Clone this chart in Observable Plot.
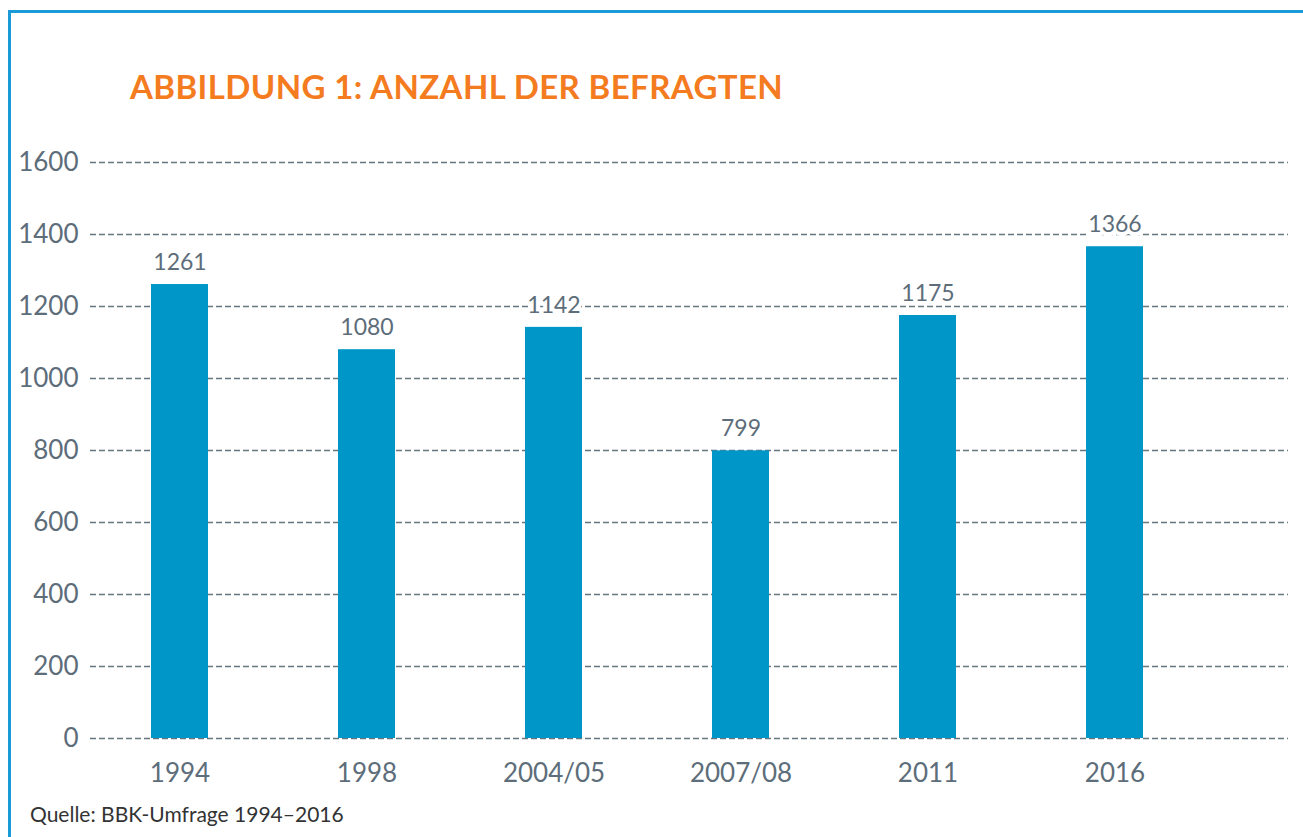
<!DOCTYPE html>
<html>
<head>
<meta charset="utf-8">
<script src="https://cdn.jsdelivr.net/npm/d3@7"></script>
<script src="https://cdn.jsdelivr.net/npm/@observablehq/plot@0.6"></script>
<style>
  html, body { margin: 0; padding: 0; background: #fff; }
  #wrap { position: relative; width: 1303px; height: 837px; overflow: hidden; font-family: Lato, "Open Sans", sans-serif; }
  #frame { position: absolute; left: 8px; top: 10px; right: -10px; bottom: -10px; border-top: 3px solid #1a9ad6; border-left: 3px solid #1a9ad6; }
  #title { position: absolute; left: 130px; top: 70px; margin: 0; font-size: 33px; line-height: 1; font-weight: 700; color: #f47b20; letter-spacing: 0.4px; white-space: nowrap; }
  #chart { position: absolute; left: 0; top: 0; }
  #caption { position: absolute; left: 30px; top: 803px; font-size: 21px; line-height: 1; color: #333; white-space: nowrap; }
</style>
</head>
<body>
<div id="wrap">
  <div id="frame"></div>
  <div id="chart"></div>
  <h2 id="title">ABBILDUNG 1: ANZAHL DER BEFRAGTEN</h2>
  <div id="caption">Quelle: BBK-Umfrage 1994–2016</div>
</div>
<script>
const categories = ["1994", "1998", "2004/05", "2007/08", "2011", "2016"];
const values = [1261, 1080, 1142, 799, 1175, 1366];
const yTicks = [0, 200, 400, 600, 800, 1000, 1200, 1400, 1600];

const data = categories.map((c, i) => ({ category: c, value: values[i] }));
const grey = "#5d6d7a";

const chart = Plot.plot({
  width: 1303,
  height: 800,
  marginTop: 162,
  marginBottom: 62,
  marginLeft: 90,
  marginRight: 15,
  style: { fontFamily: "Lato, 'Open Sans', sans-serif", background: "transparent", overflow: "visible" },
  x: { domain: categories, paddingInner: 0.6955, paddingOuter: 0.5475, align: 0.2976, label: null },
  y: { domain: [0, 1600], ticks: yTicks, label: null },
  marks: [
    Plot.ruleY(yTicks, { stroke: "#66767f", strokeWidth: 1.6, strokeDasharray: "6,3" }),
    Plot.barY(data, { x: "category", y: "value", fill: "#0096c8" }),
    Plot.text(data, {
      x: "category", y: "value", text: d => String(d.value), dy: -22,
      fontSize: 23, fill: grey, stroke: "white", strokeWidth: 8, paintOrder: "stroke"
    }),
    Plot.axisX({ tickSize: 0, tickPadding: 25, fontSize: 26, color: grey, label: null }),
    Plot.axisY({ ticks: yTicks, tickSize: 0, tickPadding: 12, fontSize: 26, color: grey, label: null, tickFormat: d => String(d) })
  ]
});
document.getElementById("chart").appendChild(chart);
</script>
</body>
</html>
